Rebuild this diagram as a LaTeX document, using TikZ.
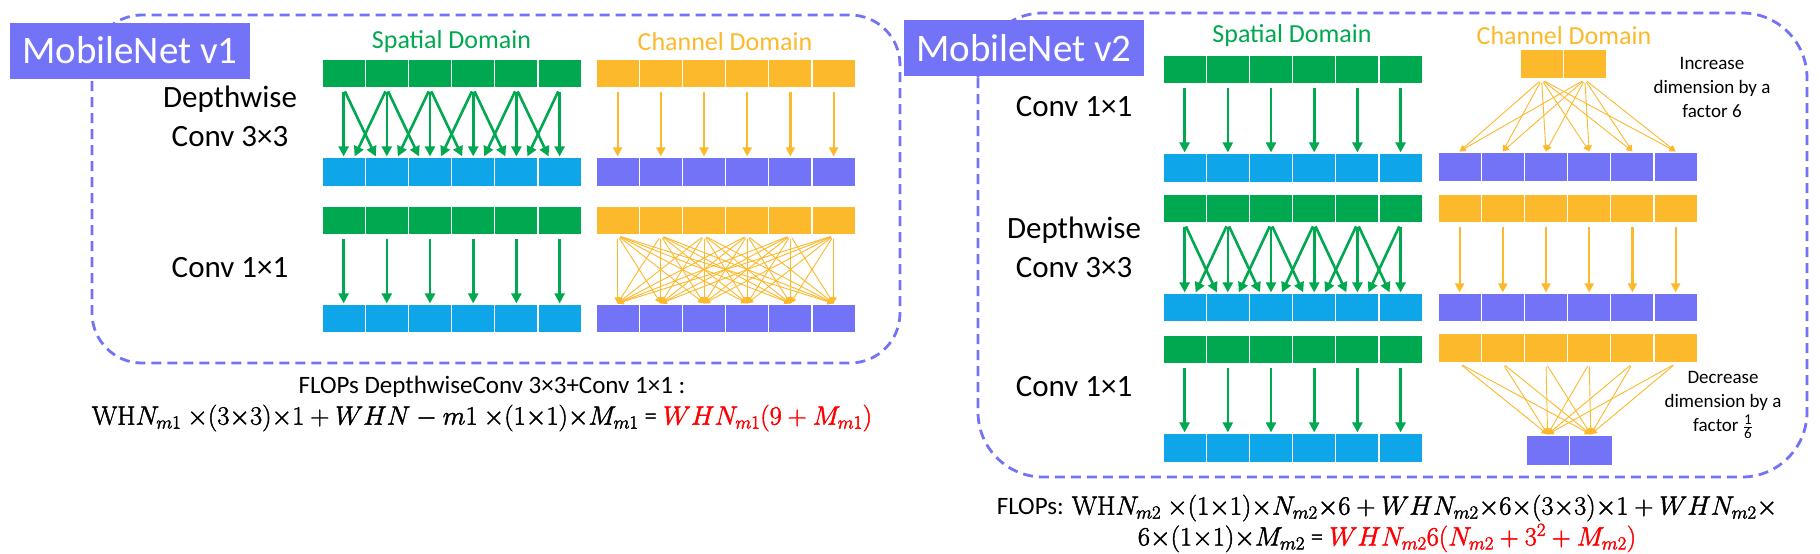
\RequirePackage{fix-cm}
\documentclass[tikz,border=0pt]{standalone}
\usepackage[no-math]{fontspec}
\setmainfont{Carlito}
\usetikzlibrary{arrows.meta}
\definecolor{cgreen}{HTML}{00A850}
\definecolor{cblue}{HTML}{0EA5E9}
\definecolor{corange}{HTML}{FDB92C}
\definecolor{cpurple}{HTML}{7373F7}
\definecolor{cred}{HTML}{FF0000}
\newcommand\cellrow[6]{%
  \foreach \k in {1,...,#5}{%
    \node[cellbox,fill=#2,minimum height=#6pt] (#1-\k) at ({#3+(\k-0.5)*43.2},{#4+#6/2}) {};
  }}
\newcommand\tx[1]{{\fontsize{25}{30}\selectfont #1}}
\newcommand\heavy[1]{\special{pdf:literal direct 2 Tr 0.45 w}#1\special{pdf:literal direct 0 Tr}}
\tikzset{
  cellbox/.style={draw=white,line width=1.2pt,inner sep=0pt,minimum width=43.2pt},
  garrow/.style={draw=cgreen,line width=2.6pt,-{Triangle[length=10pt,width=10pt]},shorten <=3pt},
  oarrow/.style={draw=corange,line width=2.2pt,-{Triangle[length=9pt,width=9pt]},shorten <=3pt},
  farrow/.style={draw=corange,line width=0.9pt,-{Triangle[length=6pt,width=6pt]},shorten <=3pt},
  dbox/.style={draw=cpurple,line width=2.8pt,dash pattern=on 10pt off 6pt},
  lab/.style={fill=cpurple,text=white,font=\fontsize{39}{39}\selectfont,minimum width=240pt,minimum height=56pt,inner sep=0pt},
  hdr/.style={font=\fontsize{26}{26}\selectfont},
  side/.style={font=\fontsize{31}{31}\selectfont,inner sep=0pt},
  note/.style={font=\fontsize{19}{24}\selectfont,align=center,inner sep=0pt},
  fml/.style={font=\fontsize{26.5}{32}\selectfont,inner sep=0pt},
}
\begin{document}
\begin{tikzpicture}[x=1pt,y=-1pt]
\useasboundingbox[fill=white] (0,0) rectangle (1820,554);
% dashed frames
\draw[dbox,rounded corners=50pt] (92,15) rectangle (900,363);
\draw[dbox,rounded corners=65pt] (978,13) rectangle (1807,477);
% labels
\node[lab] (v1) at (130,50.5) {MobileNet v1};
\node[lab] (v2) at (1024,48) {MobileNet v2};
% headers
\node[hdr,text=cgreen] (h1s) at (451.5,42) {Spatial Domain};
\node[hdr,text=corange] (h1c) at (725,42) {Channel Domain};
\node[hdr,text=cgreen] (h2s) at (1292,36) {Spatial Domain};
\node[hdr,text=corange] (h2c) at (1564,36) {Channel Domain};
% side labels v1
\node[side] (s1a) at (230,99) {Depthwise};
\node[side] (s1b) at (230,137) {Conv 3×3};
\node[side] (s1c) at (230,268) {Conv 1×1};
% side labels v2
\node[side] (s2a) at (1074,107) {Conv 1×1};
\node[side] (s2b) at (1074,230) {Depthwise};
\node[side] (s2c) at (1074,268) {Conv 3×3};
\node[side] (s2d) at (1074,387) {Conv 1×1};
% ---------- v1 cells
\cellrow{a1s}{cgreen}{322}{59}{6}{29}
\cellrow{a1t}{cblue}{322}{157}{6}{30}
\cellrow{c1s}{corange}{596}{59}{6}{29}
\cellrow{c1t}{cpurple}{596}{157}{6}{30}
\cellrow{b1s}{cgreen}{322}{206}{6}{29}
\cellrow{b1t}{cblue}{322}{304}{6}{29}
\cellrow{d1s}{corange}{596}{206}{6}{29}
\cellrow{d1t}{cpurple}{596}{304}{6}{29}
% v1 depthwise arrows
\foreach \k in {1,...,6}{\draw[garrow] (a1s-\k.south) -- (a1t-\k.north);}
\foreach \k in {1,...,5}{\pgfmathtruncatemacro\j{\k+1}\draw[garrow] (a1s-\k.south) -- ([xshift=-11pt]a1t-\j.north);}
\foreach \k in {2,...,6}{\pgfmathtruncatemacro\j{\k-1}\draw[garrow] (a1s-\k.south) -- ([xshift=11pt]a1t-\j.north);}
\foreach \k in {1,...,6}{\draw[oarrow] (c1s-\k.south) -- (c1t-\k.north);}
% v1 1x1 arrows
\foreach \k in {1,...,6}{\draw[garrow] (b1s-\k.south) -- (b1t-\k.north);}
\foreach \k in {1,...,6}{\foreach \j in {1,...,6}{\draw[farrow] (d1s-\k.south) -- (d1t-\j.north);}}
% ---------- v2 cells
\cellrow{a2s}{cgreen}{1163}{55}{6}{29}
\cellrow{a2t}{cblue}{1163}{153}{6}{30}
\cellrow{c2s}{corange}{1520}{49}{2}{30}
\cellrow{c2t}{cpurple}{1438}{152}{6}{30}
\cellrow{e2s}{cgreen}{1163}{194}{6}{29}
\cellrow{e2t}{cblue}{1163}{293}{6}{29}
\cellrow{f2s}{corange}{1438}{194}{6}{29}
\cellrow{f2t}{cpurple}{1438}{293}{6}{29}
\cellrow{g2s}{cgreen}{1163}{335}{6}{29}
\cellrow{g2t}{cblue}{1163}{433}{6}{30}
\cellrow{h2s}{corange}{1438}{333}{6}{30}
\cellrow{h2t}{cpurple}{1526}{435}{2}{31}
% v2 arrows
\foreach \k in {1,...,6}{\draw[garrow] (a2s-\k.south) -- (a2t-\k.north);}
\foreach \k in {1,2}{\foreach \j in {1,...,6}{\draw[farrow] (c2s-\k.south) -- (c2t-\j.north);}}
\foreach \k in {1,...,6}{\draw[garrow] (e2s-\k.south) -- (e2t-\k.north);}
\foreach \k in {1,...,5}{\pgfmathtruncatemacro\j{\k+1}\draw[garrow] (e2s-\k.south) -- ([xshift=-11pt]e2t-\j.north);}
\foreach \k in {2,...,6}{\pgfmathtruncatemacro\j{\k-1}\draw[garrow] (e2s-\k.south) -- ([xshift=11pt]e2t-\j.north);}
\foreach \k in {1,...,6}{\draw[oarrow] (f2s-\k.south) -- (f2t-\k.north);}
\foreach \k in {1,...,6}{\draw[garrow] (g2s-\k.south) -- (g2t-\k.north);}
\foreach \k in {1,...,6}{\foreach \j in {1,2}{\draw[farrow] (h2s-\k.south) -- (h2t-\j.north);}}
% notes
\node[note] (n1) at (1712,87) {Increase\\dimension by a\\factor 6};
\node[note] (n2) at (1723,405) {Decrease\\dimension by a\\factor $\frac{\mbox{\fontsize{15}{15}\selectfont 1}}{\mbox{\fontsize{15}{15}\selectfont 6}}$};
% formulas
\node[fml] (f1a) at (492,387) {\tx{FLOPs DepthwiseConv 3×3+Conv 1×1 :}};
\node[fml] (f1b) at (482,418) {\heavy{$\mathrm{WH}N_{m1}\ {\times}(3{\times}3){\times}1+WHN-m1\ {\times}(1{\times}1){\times}M_{m1}$} \tx{=} \textcolor{cred}{\heavy{$WHN_{m1}(9+M_{m1})$}}};
\node[fml] (f2a) at (1387,508) {\tx{FLOPs:} \heavy{$\mathrm{WH}N_{m2}\ {\times}(1{\times}1){\times}N_{m2}{\times}6+WHN_{m2}{\times}6{\times}(3{\times}3){\times}1+WHN_{m2}{\times}$}};
\node[fml] (f2b) at (1387,538) {\heavy{$6{\times}(1{\times}1){\times}M_{m2}$} \tx{=} \textcolor{cred}{\heavy{$WHN_{m2}6(N_{m2}+3^2+M_{m2})$}}};
\end{tikzpicture}
\end{document}
